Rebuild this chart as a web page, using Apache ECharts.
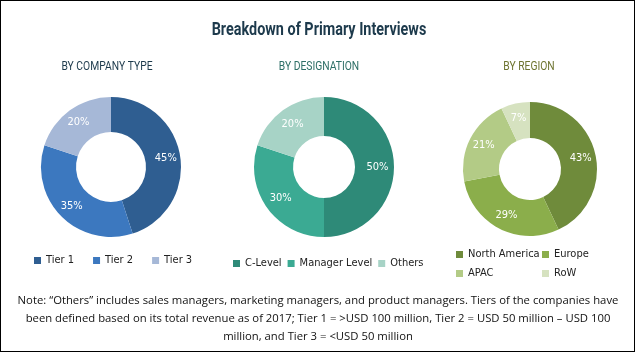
<!DOCTYPE html>
<html>
<head>
<meta charset="utf-8">
<script src="https://cdn.jsdelivr.net/npm/echarts@6/dist/echarts.min.js"></script>
<style>
  html, body { margin: 0; padding: 0; background: #fff; }
  #chart { width: 635px; height: 352px; box-sizing: border-box; border: 1px solid #000; }
</style>
</head>
<body>
<div id="chart"></div>
<script>
const companyNames = ['Tier 1', 'Tier 2', 'Tier 3'];
const companyValues = [45, 35, 20];
const designationNames = ['C-Level', 'Manager Level', 'Others'];
const designationValues = [50, 30, 20];
const regionNames = ['North America', 'Europe', 'APAC', 'RoW'];
const regionValues = [43, 29, 21, 7];

const companyColors = ['#2F5E91', '#3C78BF', '#A6B8D7'];
const designationColors = ['#2E8A78', '#3BAA93', '#A7D3C6'];
const regionColors = ['#6F8B3B', '#8BAE4B', '#B3CB86', '#D6E2C0'];

const noteLines = [
  'Note: \u201cOthers\u201d includes sales managers, marketing managers, and product managers. Tiers of the companies have',
  'been defined based on its total revenue as of 2017; Tier 1 = >USD 100 million, Tier 2 = USD 50 million \u2013 USD 100',
  'million, and Tier 3 = <USD 50 million'
];

const cond = 'DejaVu Sans Condensed';
const chart = echarts.init(document.getElementById('chart'));

function pieSeries(names, values, colors, center, radius) {
  return {
    type: 'pie',
    center: center,
    radius: radius,
    startAngle: 90,
    clockwise: true,
    silent: true,
    label: {
      position: 'inside',
      formatter: '{c}%',
      color: '#fff',
      fontSize: 11,
      fontFamily: cond
    },
    labelLine: { show: false },
    itemStyle: { borderWidth: 0 },
    data: names.map((n, i) => ({ name: n, value: values[i], itemStyle: { color: colors[i] } }))
  };
}

// narrow headings: squeeze the text horizontally around its own position
function squeezed(text, x, y, font, color, sx) {
  return {
    type: 'text', x: x, y: y, scaleX: sx, silent: true,
    style: { text: text, font: font, fill: color, align: 'center', verticalAlign: 'middle' }
  };
}

const legendText = { color: '#222', fontSize: 11, fontFamily: cond };
const legendBase = { itemWidth: 7, itemHeight: 7, icon: 'rect', textStyle: legendText, selectedMode: false };

chart.setOption({
  animation: false,
  backgroundColor: '#fff',
  graphic: [
    squeezed('Breakdown of Primary Interviews', 318, 29, 'bold 18px Roboto', '#1D3A4C', 0.8),
    squeezed('BY COMPANY TYPE', 106, 66, '12px Roboto', '#1D3A4C', 0.86),
    squeezed('BY DESIGNATION', 318, 66, '12px Roboto', '#2E6F66', 0.86),
    squeezed('BY REGION', 528, 66, '12px Roboto', '#6E7430', 0.86),
    {
      type: 'text', x: 317, y: 291, silent: true,
      style: { text: noteLines.join('\n'), font: '11.3px "Open Sans"', fill: '#111', align: 'center', verticalAlign: 'top', lineHeight: 18 }
    }
  ],
  legend: [
    Object.assign({ data: companyNames, left: 28, top: 249, itemGap: 19 }, legendBase),
    Object.assign({ data: designationNames, left: 227, top: 252, itemGap: 6 }, legendBase),
    Object.assign({ data: [regionNames[0], regionNames[2]], left: 450, top: 243, orient: 'vertical', itemGap: 8 }, legendBase),
    Object.assign({ data: [regionNames[1], regionNames[3]], left: 536, top: 243, orient: 'vertical', itemGap: 8 }, legendBase)
  ],
  series: [
    pieSeries(companyNames, companyValues, companyColors, [110, 166], [35, 70]),
    pieSeries(designationNames, designationValues, designationColors, [323, 166], [31, 70]),
    pieSeries(regionNames, regionValues, regionColors, [529, 168], [31, 67])
  ]
});

window.addEventListener('resize', () => chart.resize());
</script>
</body>
</html>
